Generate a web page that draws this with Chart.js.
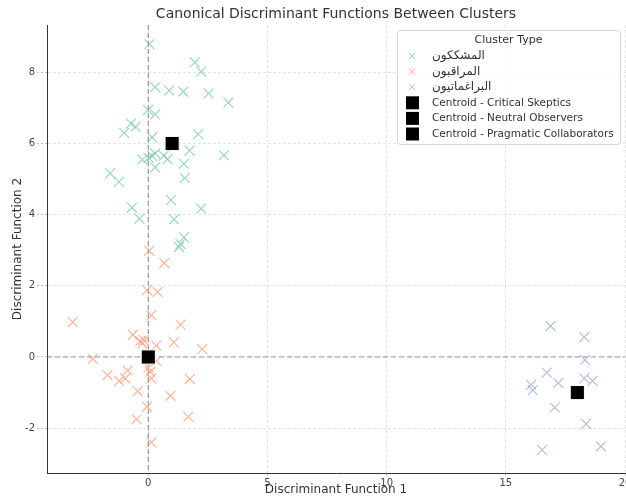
<!DOCTYPE html>
<html>
<head>
<meta charset="utf-8">
<script src="https://cdn.jsdelivr.net/npm/chart.js@4.4.1/dist/chart.umd.min.js"></script>
<style>
  html, body { margin: 0; padding: 0; background: #fff; overflow: hidden; }
  #wrap { width: 636px; height: 497px; }
</style>
</head>
<body>
<div id="wrap"><canvas id="myChart"></canvas></div>
<script>
// cluster points
const skepticsX = [0.05, 1.95, 2.22, 0.29, 0.87, 1.47, 2.53, 3.36, -0.01, 0.29, -0.73, -0.53, -1.01, 2.09, 0.16, 1.73, 3.17, -0.25, 0.16, 0.29, 0.01, 0.65, 0.81, 0.29, 1.49, 1.53, -1.6, -1.23, 0.95, -0.69, 2.22, -0.37, 1.08, 1.5, 1.35, 1.29];
const skepticsY = [8.79, 8.28, 8.02, 7.58, 7.49, 7.46, 7.40, 7.15, 6.94, 6.82, 6.56, 6.47, 6.30, 6.26, 6.17, 5.80, 5.67, 5.55, 5.65, 5.72, 5.60, 5.66, 5.56, 5.33, 5.43, 5.03, 5.16, 4.92, 4.41, 4.20, 4.17, 3.89, 3.87, 3.36, 3.18, 3.09];

const observersX = [0.04, 0.67, -0.05, 0.39, -3.17, 0.13, 1.35, -0.65, -0.34, -0.25, -0.2, 0.34, 1.07, 2.26, -2.33, -0.05, 0.05, 0.34, 0.01, 0.08, -0.86, -1.71, -0.97, -1.22, 0.13, 1.74, -0.45, 0.93, -0.05, -0.49, 1.68, 0.13];
const observersY = [2.99, 2.64, 1.88, 1.83, 0.98, 1.17, 0.91, 0.62, 0.45, 0.38, 0.48, 0.32, 0.41, 0.22, -0.05, 0.02, -0.08, -0.11, -0.29, -0.42, -0.38, -0.51, -0.6, -0.67, -0.6, -0.62, -0.96, -1.09, -1.4, -1.75, -1.68, -2.4];

const pragmatistsX = [16.88, 18.29, 18.32, 16.72, 17.2, 16.06, 16.13, 18.29, 18.64, 17.05, 18.37, 16.52, 18.99];
const pragmatistsY = [0.87, 0.56, -0.08, -0.44, -0.73, -0.78, -0.93, -0.6, -0.67, -1.42, -1.88, -2.61, -2.51];

const clusterNames = ['المشككون', 'المراقبون', 'البراغماتيون'];
const centroidNames = ['Centroid - Critical Skeptics', 'Centroid - Neutral Observers', 'Centroid - Pragmatic Collaborators'];
const centroidX = [1.0, 0.0, 18.0];
const centroidY = [6.0, 0.0, -1.0];

const xTicks = [0, 5, 10, 15, 20];
const yTicks = [-2, 0, 2, 4, 6, 8];

const chartTitle = 'Canonical Discriminant Functions Between Clusters';
const colors = ['rgba(102,194,165,0.7)', 'rgba(252,141,98,0.7)', 'rgba(141,160,203,0.7)'];
const FONT = "'DejaVu Sans', sans-serif";

const toPoints = (xs, ys) => xs.map((x, i) => ({ x: x, y: ys[i] }));

const clusters = [
  toPoints(skepticsX, skepticsY),
  toPoints(observersX, observersY),
  toPoints(pragmatistsX, pragmatistsY),
];

const datasets = [];
clusters.forEach((pts, i) => {
  datasets.push({
    label: clusterNames[i],
    data: pts,
    pointStyle: 'crossRot',
    pointRadius: 7,
    pointBorderWidth: 1.1,
    borderColor: colors[i],
    backgroundColor: colors[i],
    order: 2,
  });
});
centroidX.forEach((x, i) => {
  datasets.push({
    label: centroidNames[i],
    data: [{ x: x, y: centroidY[i] }],
    pointStyle: 'rect',
    pointRadius: 10,
    pointBorderWidth: 1,
    borderColor: '#ffffff',
    backgroundColor: '#000000',
    order: 1,
  });
});

// dashed lines through zero + title over the plot area
const zeroLines = {
  id: 'zeroLines',
  beforeDatasetsDraw(chart) {
    const { ctx, chartArea, scales } = chart;
    const x0 = scales.x.getPixelForValue(0);
    const y0 = scales.y.getPixelForValue(0);
    ctx.save();
    ctx.strokeStyle = 'rgba(120,120,120,0.75)';
    ctx.lineWidth = 1.2;
    ctx.setLineDash([5, 3]);
    ctx.beginPath();
    ctx.moveTo(x0, chartArea.top);
    ctx.lineTo(x0, chartArea.bottom);
    ctx.moveTo(chartArea.left, y0);
    ctx.lineTo(chartArea.right, y0);
    ctx.stroke();
    ctx.restore();
  },
  afterDraw(chart) {
    const { ctx, chartArea } = chart;
    ctx.save();
    ctx.fillStyle = '#333';
    ctx.font = '14px ' + FONT;
    ctx.textAlign = 'center';
    ctx.textBaseline = 'middle';
    ctx.fillText(chartTitle, (chartArea.left + chartArea.right) / 2, 14);
    ctx.restore();
  },
};

// legend box in the upper right corner
const boxLegend = {
  id: 'boxLegend',
  afterDraw(chart) {
    const ctx = chart.ctx;
    const left = 397, top = 30, w = 223, h = 114;
    ctx.save();
    ctx.fillStyle = 'rgba(255,255,255,0.85)';
    ctx.strokeStyle = '#d6d6d6';
    ctx.lineWidth = 1;
    ctx.beginPath();
    ctx.roundRect(left + 0.5, top + 0.5, w, h, 3);
    ctx.fill();
    ctx.stroke();

    ctx.fillStyle = '#333';
    ctx.font = '11px ' + FONT;
    ctx.textAlign = 'center';
    ctx.textBaseline = 'middle';
    ctx.fillText('Cluster Type', left + w / 2, top + 10);

    const labels = clusterNames.concat(centroidNames);
    ctx.textAlign = 'left';
    labels.forEach((txt, i) => {
      const cy = top + 26 + i * 15.6;
      if (i < 3) {
        ctx.strokeStyle = colors[i];
        ctx.lineWidth = 1;
        ctx.beginPath();
        ctx.moveTo(412 - 3, cy - 3);
        ctx.lineTo(412 + 3, cy + 3);
        ctx.moveTo(412 + 3, cy - 3);
        ctx.lineTo(412 - 3, cy + 3);
        ctx.stroke();
        ctx.font = '12px ' + FONT;
      } else {
        ctx.fillStyle = '#000';
        ctx.fillRect(406, cy - 6.5, 13, 13);
        ctx.font = '10.5px ' + FONT;
      }
      ctx.fillStyle = '#333';
      ctx.fillText(txt, 432, cy);
    });
    ctx.restore();
  },
};

const ctx = document.getElementById('myChart');

new Chart(ctx, {
  type: 'scatter',
  data: { datasets: datasets },
  options: {
    responsive: true,
    maintainAspectRatio: false,
    animation: false,
    layout: { padding: { top: 25, left: 0, right: 0, bottom: 0 } },
    plugins: {
      legend: { display: false },
      tooltip: { enabled: false },
      title: { display: false },
    },
    scales: {
      x: {
        type: 'linear',
        min: -4.25,
        max: 20,
        afterBuildTicks: (scale) => {
          scale.ticks = xTicks.map((v) => ({ value: v }));
        },
        afterFit: (scale) => {
          scale.height = 24;
        },
        ticks: {
          color: '#444',
          font: { family: FONT, size: 10 },
          padding: 1,
          maxRotation: 0,
        },
        grid: {
          color: 'rgba(0,0,0,0.11)',
          tickColor: 'rgba(0,0,0,0.2)',
          tickLength: 3,
        },
        border: { display: true, color: '#333', width: 1, dash: [3, 2] },
        title: {
          display: true,
          text: 'Discriminant Function 1',
          color: '#333',
          font: { family: FONT, size: 12 },
          padding: { top: 0, bottom: 0 },
        },
      },
      y: {
        type: 'linear',
        min: -3.26,
        max: 9.33,
        afterBuildTicks: (scale) => {
          scale.ticks = yTicks.map((v) => ({ value: v }));
        },
        afterFit: (scale) => {
          scale.width = 47;
        },
        ticks: {
          color: '#444',
          font: { family: FONT, size: 10 },
          padding: 2,
        },
        grid: {
          color: 'rgba(0,0,0,0.11)',
          tickColor: 'rgba(0,0,0,0.25)',
          tickLength: 10,
          tickBorderDash: [2, 2],
        },
        border: { display: true, color: '#333', width: 1, dash: [3, 2] },
        title: {
          display: true,
          text: 'Discriminant Function 2',
          color: '#333',
          font: { family: FONT, size: 12 },
          padding: { top: 11, bottom: 0 },
        },
      },
    },
  },
  plugins: [zeroLines, boxLegend],
});
</script>
</body>
</html>
